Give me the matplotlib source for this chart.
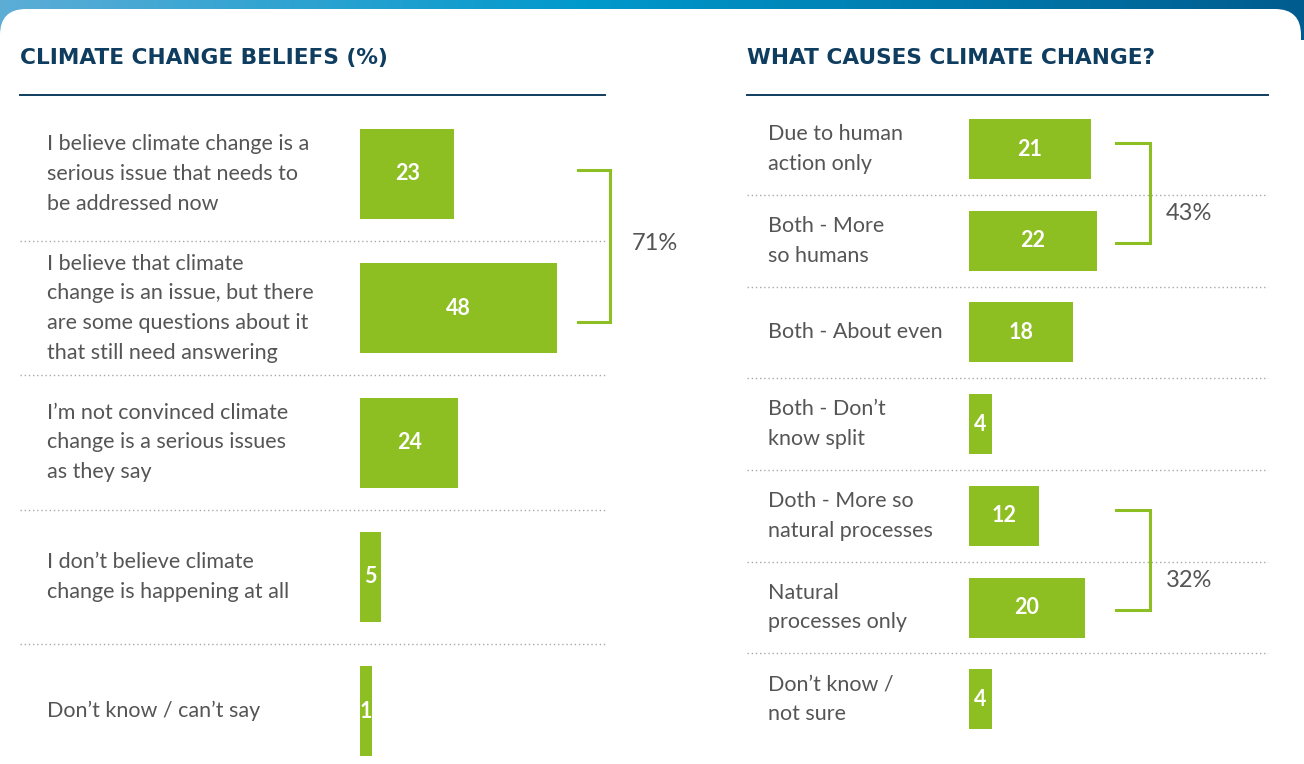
"""Two-panel survey chart: climate change beliefs / what causes climate change."""
import matplotlib.pyplot as plt
import numpy as np
from matplotlib.patches import FancyBboxPatch
from matplotlib.transforms import blended_transform_factory

W, H = 1304, 764

GREEN = "#8dbe22"
NAVY = "#0f3d5f"
GREY_TEXT = "#555555"
DOT = "#a8a8a8"

plt.rcParams.update({
    "font.family": ["Lato", "DejaVu Sans"],
})

# --- data -----------------------------------------------------------------
beliefs_title = "CLIMATE CHANGE BELIEFS (%)"
beliefs_labels = [
    "I believe climate change is a\nserious issue that needs to\nbe addressed now",
    "I believe that climate\nchange is an issue, but there\nare some questions about it\nthat still need answering",
    "I\u2019m not convinced climate\nchange is a serious issues\nas they say",
    "I don\u2019t believe climate\nchange is happening at all",
    "Don\u2019t know / can\u2019t say",
]
beliefs_values = [23, 48, 24, 5, 1]
beliefs_groups = [(0, 1, "71%")]

causes_title = "WHAT CAUSES CLIMATE CHANGE?"
causes_labels = [
    "Due to human\naction only",
    "Both - More\nso humans",
    "Both - About even",
    "Both - Don\u2019t\nknow split",
    "Doth - More so\nnatural processes",
    "Natural\nprocesses only",
    "Don\u2019t know /\nnot sure",
]
causes_values = [21, 22, 18, 4, 12, 20, 4]
causes_groups = [(0, 1, "43%"), (4, 5, "32%")]

MIN_BAR_PX = 12  # tiny bars are drawn at least this wide so the label fits


def px_rect(x0, y0, x1, y1):
    return [x0 / W, 1 - y1 / H, (x1 - x0) / W, (y1 - y0) / H]


fig = plt.figure(figsize=(W / 100, H / 100), dpi=100)

# background: gradient strip + white rounded card
bg = fig.add_axes([0, 0, 1, 1])
bg.set_xlim(0, W)
bg.set_ylim(H, 0)
bg.axis("off")
grad = np.linspace(0, 1, 256)
stops = np.array([[0.36, 0.68, 0.84], [0.0, 0.60, 0.80], [0.0, 0.36, 0.56]])
cols = np.stack([np.interp(grad, [0, 0.45, 1], stops[:, k]) for k in range(3)], axis=-1)
bg.imshow(cols[None, :, :], extent=[0, W, 40, 0], aspect="auto", zorder=0)
bg.add_patch(FancyBboxPatch((0, 9), W - 3, 900, boxstyle="round,pad=0,rounding_size=26",
                            fc="white", ec="none", zorder=1))


def panel(x_left, x_right, bar_x0, px_per_unit, row0, row_pitch, bar_px,
          title, labels, values, groups, label_x, bracket_x, bracket_w, bracket_pad,
          pct_x, pct_dy, rule_x):
    bg.text(x_left, 58, title, fontsize=15.6, fontweight="bold", color=NAVY,
            family="DejaVu Sans", va="center", ha="left", zorder=2)
    bg.plot([x_left, x_right], [95, 95], color=NAVY, lw=1.4, zorder=2)

    ax = fig.add_axes(px_rect(bar_x0, 100, rule_x, H))
    ax.axis("off")
    n = len(values)
    ax.set_ylim((H - row0) / row_pitch, (100 - row0) / row_pitch)
    ax.set_xlim(0, (rule_x - bar_x0) / px_per_unit)

    y = np.arange(n)
    shown = np.maximum(values, MIN_BAR_PX / px_per_unit)
    ax.barh(y, shown, height=bar_px / row_pitch, color=GREEN, zorder=2)
    for yi, v, s in zip(y, values, shown):
        ax.text(s / 2, yi, str(v), color="white", fontsize=15.5, fontweight="bold",
                ha="center", va="center", zorder=3)

    tr = blended_transform_factory(fig.transFigure, ax.transData)
    for yi, lab in zip(y, labels):
        ax.text(label_x / W, yi, lab, transform=tr, fontsize=15.5, color=GREY_TEXT,
                ha="left", va="center", linespacing=1.6, clip_on=False)
    for yi in y[:-1] + 0.5:
        ax.plot([x_left / W, x_right / W], [yi, yi], transform=tr, color=DOT,
                lw=1.0, ls=(0, (1, 2)), clip_on=False, zorder=1)

    for a, b, txt in groups:
        ya = a + bracket_pad[0] / row_pitch
        yb = b + bracket_pad[1] / row_pitch
        xs = [bracket_x / W, (bracket_x + bracket_w) / W]
        ax.plot([xs[0], xs[1], xs[1], xs[0]], [ya, ya, yb, yb], transform=tr,
                color=GREEN, lw=2.2, clip_on=False, solid_joinstyle="miter")
        ax.text(pct_x / W, (ya + yb) / 2 + pct_dy / row_pitch, txt, transform=tr,
                fontsize=17, color=GREY_TEXT, ha="left", va="center", clip_on=False)
    return ax


panel(20, 605, 360, 4.1, 174, 134.25, 90, beliefs_title, beliefs_labels,
      beliefs_values, beliefs_groups, 47, 578, 32, (-4, 14), 632, -3, 700)
panel(747, 1268, 969, 5.8, 149, 91.7, 60, causes_title, causes_labels,
      causes_values, causes_groups, 768, 1116, 34, (-6, 2), 1166, 21, 1270)

fig.savefig("out.png", dpi=100)
